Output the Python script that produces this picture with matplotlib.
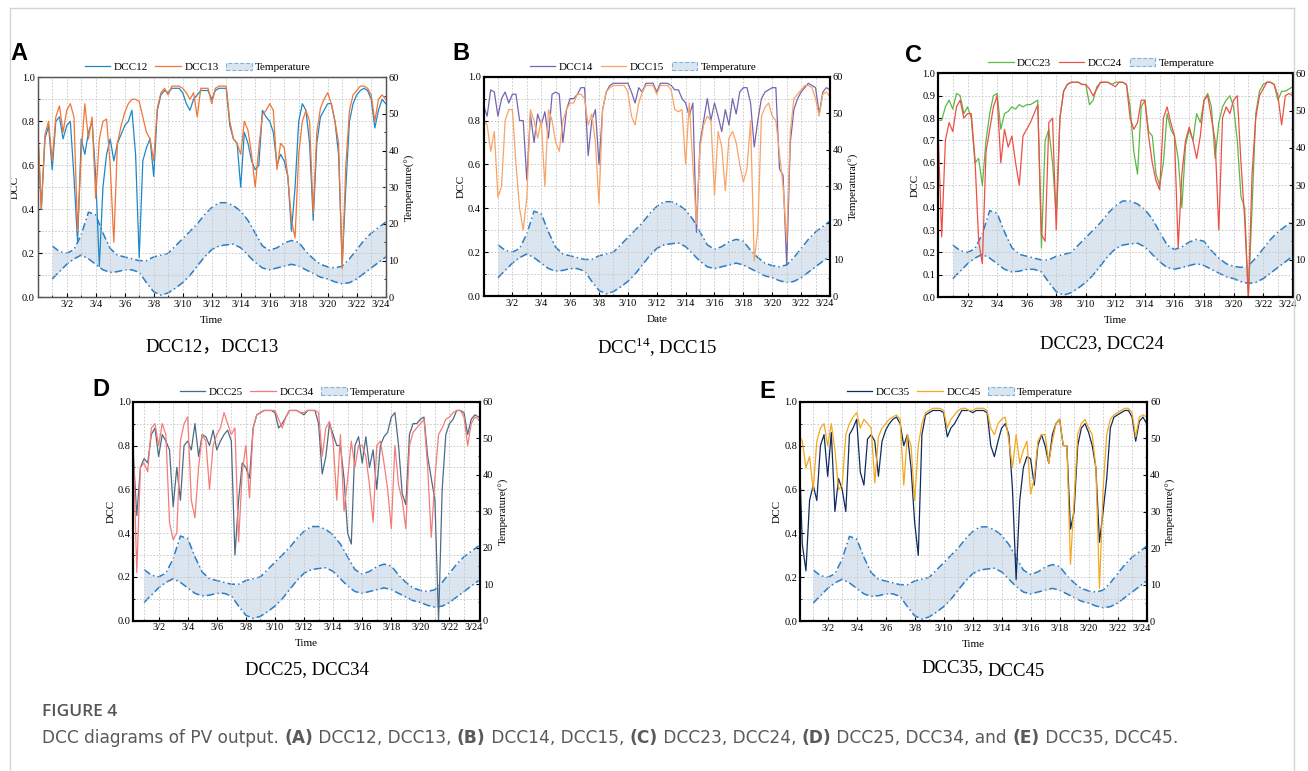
import numpy as np
import matplotlib
matplotlib.use('Agg')
import matplotlib.pyplot as plt
import matplotlib.patches as mpatches
import matplotlib.transforms as mtransforms
from matplotlib.lines import Line2D
from matplotlib.ticker import MultipleLocator

plt.rcParams['font.family'] = ['Liberation Serif', 'Noto Sans CJK SC', 'DejaVu Sans']
plt.rcParams['mathtext.fontset'] = 'custom'
plt.rcParams['mathtext.rm'] = 'Liberation Serif'

W, H = 1308, 771

# time axis: day of March, sampled every 6 hours
days = np.arange(0, 24.25, 0.25)
xtick_days = list(range(2, 25, 2))
xtick_labels = ['3/%d' % d for d in xtick_days]

# temperature envelope (deg), every 12 hours from 3/1
temp_days = np.arange(1, 24.5, 0.5)
temp_high = [14, 12.5, 12, 13, 17, 23.2, 22.5, 17.5, 13.3, 11.5, 11, 10.5, 10, 10, 11, 11.5,
             12, 14, 16, 18, 20, 22.5, 24.5, 25.8, 25.8, 25, 23.5, 21, 17.5, 14, 12.8, 13.5,
             14.8, 15.5, 15, 12.5, 10.5, 9, 8.3, 8, 8.5, 10.5, 13, 15.5, 17.5, 19, 20.5]
temp_low = [5, 7, 9, 10.5, 11.5, 10.5, 9, 7.5, 6.8, 7, 7.5, 7.5, 6.8, 4, 1.5, 0.6,
            1.2, 2.5, 4, 6, 8.5, 11, 13, 14, 14.3, 14.5, 13.5, 11.5, 9.5, 8, 7.5, 8,
            8.5, 9, 8.5, 7.5, 6.5, 5.5, 5, 4.2, 3.7, 4, 5, 6.5, 8, 9.5, 11]

dcc12 = [0.76, 0.40, 0.72, 0.78, 0.58, 0.80, 0.82, 0.72,
         0.78, 0.80, 0.55, 0.25, 0.72, 0.65, 0.75, 0.80,
         0.55, 0.14, 0.50, 0.65, 0.72, 0.62, 0.70, 0.74,
         0.78, 0.80, 0.85, 0.65, 0.18, 0.62, 0.68, 0.72,
         0.55, 0.85, 0.92, 0.94, 0.93, 0.95, 0.95, 0.95,
         0.93, 0.88, 0.85, 0.90, 0.92, 0.94, 0.94, 0.94,
         0.90, 0.94, 0.95, 0.95, 0.95, 0.78, 0.72, 0.70,
         0.50, 0.75, 0.70, 0.62, 0.58, 0.60, 0.85, 0.82,
         0.80, 0.75, 0.60, 0.65, 0.62, 0.55, 0.30, 0.50,
         0.80, 0.88, 0.85, 0.70, 0.35, 0.70, 0.82, 0.85,
         0.88, 0.88, 0.80, 0.65, 0.15, 0.50, 0.80, 0.88,
         0.92, 0.94, 0.95, 0.94, 0.90, 0.77, 0.85, 0.90,
         0.88]
dcc13 = [0.78, 0.40, 0.74, 0.80, 0.62, 0.82, 0.87, 0.75,
         0.85, 0.88, 0.82, 0.30, 0.65, 0.88, 0.72, 0.82,
         0.45, 0.72, 0.80, 0.81, 0.60, 0.25, 0.70, 0.78,
         0.84, 0.88, 0.90, 0.90, 0.89, 0.82, 0.75, 0.72,
         0.62, 0.86, 0.93, 0.95, 0.92, 0.96, 0.96, 0.96,
         0.95, 0.93, 0.90, 0.93, 0.82, 0.95, 0.95, 0.95,
         0.88, 0.95, 0.96, 0.96, 0.96, 0.80, 0.72, 0.70,
         0.65, 0.80, 0.76, 0.65, 0.50, 0.68, 0.83, 0.85,
         0.88, 0.85, 0.58, 0.70, 0.68, 0.55, 0.35, 0.27,
         0.65, 0.80, 0.85, 0.80, 0.38, 0.75, 0.86, 0.90,
         0.93, 0.88, 0.80, 0.70, 0.13, 0.60, 0.85, 0.92,
         0.94, 0.96, 0.96, 0.95, 0.92, 0.80, 0.90, 0.92,
         0.90]
dcc14 = [0.87, 0.82, 0.94, 0.93, 0.82, 0.90, 0.93, 0.88,
         0.92, 0.92, 0.80, 0.80, 0.53, 0.83, 0.70, 0.83,
         0.78, 0.84, 0.72, 0.92, 0.93, 0.92, 0.70, 0.85,
         0.90, 0.90, 0.92, 0.95, 0.95, 0.64, 0.80, 0.85,
         0.60, 0.85, 0.93, 0.96, 0.97, 0.97, 0.97, 0.97,
         0.97, 0.93, 0.88, 0.95, 0.93, 0.97, 0.97, 0.97,
         0.93, 0.97, 0.97, 0.97, 0.96, 0.94, 0.94, 0.90,
         0.88, 0.82, 0.88, 0.29, 0.70, 0.80, 0.90, 0.80,
         0.88, 0.82, 0.75, 0.85, 0.78, 0.90, 0.83, 0.93,
         0.95, 0.95, 0.88, 0.68, 0.80, 0.90, 0.93, 0.94,
         0.95, 0.95, 0.58, 0.55, 0.14, 0.70, 0.85, 0.90,
         0.93, 0.95, 0.97, 0.96, 0.95, 0.83, 0.93, 0.95,
         0.94]
dcc15 = [0.80, 0.78, 0.66, 0.75, 0.45, 0.50, 0.80, 0.85,
         0.85, 0.60, 0.40, 0.30, 0.45, 0.85, 0.80, 0.72,
         0.80, 0.50, 0.85, 0.80, 0.70, 0.66, 0.80, 0.85,
         0.88, 0.88, 0.92, 0.92, 0.90, 0.78, 0.83, 0.70,
         0.42, 0.85, 0.93, 0.95, 0.96, 0.96, 0.96, 0.96,
         0.93, 0.82, 0.78, 0.88, 0.93, 0.96, 0.96, 0.96,
         0.92, 0.96, 0.96, 0.96, 0.94, 0.85, 0.84, 0.85,
         0.60, 0.88, 0.60, 0.33, 0.68, 0.78, 0.82, 0.80,
         0.46, 0.75, 0.68, 0.48, 0.72, 0.75, 0.70, 0.60,
         0.52, 0.58, 0.80, 0.16, 0.30, 0.82, 0.86, 0.88,
         0.82, 0.80, 0.65, 0.50, 0.25, 0.75, 0.90, 0.92,
         0.94, 0.96, 0.96, 0.95, 0.90, 0.82, 0.92, 0.93,
         0.91]
dcc23 = [0.79, 0.79, 0.85, 0.88, 0.84, 0.91, 0.90, 0.82,
         0.85, 0.80, 0.60, 0.62, 0.50, 0.70, 0.82, 0.90,
         0.91, 0.75, 0.82, 0.83, 0.85, 0.84, 0.86, 0.85,
         0.86, 0.86, 0.87, 0.88, 0.22, 0.70, 0.75, 0.60,
         0.37, 0.80, 0.92, 0.95, 0.96, 0.96, 0.96, 0.95,
         0.95, 0.86, 0.88, 0.94, 0.96, 0.96, 0.96, 0.95,
         0.96, 0.96, 0.96, 0.95, 0.85, 0.65, 0.55, 0.85,
         0.88, 0.74, 0.72, 0.55, 0.50, 0.60, 0.82, 0.75,
         0.72, 0.62, 0.40, 0.68, 0.75, 0.70, 0.82, 0.78,
         0.88, 0.91, 0.85, 0.62, 0.78, 0.85, 0.88, 0.90,
         0.85, 0.70, 0.45, 0.40, 0.00, 0.40, 0.82, 0.92,
         0.95, 0.96, 0.96, 0.95, 0.88, 0.92, 0.92, 0.93,
         0.94]
dcc24 = [0.76, 0.27, 0.70, 0.78, 0.74, 0.85, 0.88, 0.80,
         0.82, 0.82, 0.62, 0.25, 0.15, 0.65, 0.75, 0.85,
         0.90, 0.60, 0.75, 0.67, 0.72, 0.60, 0.50, 0.72,
         0.75, 0.78, 0.82, 0.86, 0.28, 0.25, 0.78, 0.80,
         0.30, 0.80, 0.92, 0.95, 0.96, 0.96, 0.96, 0.95,
         0.95, 0.93, 0.90, 0.93, 0.96, 0.96, 0.96, 0.95,
         0.94, 0.96, 0.96, 0.95, 0.80, 0.75, 0.78, 0.88,
         0.88, 0.72, 0.60, 0.52, 0.48, 0.80, 0.85, 0.78,
         0.72, 0.22, 0.55, 0.70, 0.76, 0.70, 0.62, 0.72,
         0.88, 0.90, 0.80, 0.70, 0.30, 0.80, 0.85, 0.82,
         0.88, 0.90, 0.60, 0.35, 0.00, 0.55, 0.80, 0.90,
         0.93, 0.96, 0.96, 0.95, 0.90, 0.77, 0.90, 0.91,
         0.90]
# panel D starts at 3/0.25
dcc25 = [0.77, 0.48, 0.70, 0.74, 0.72, 0.85, 0.88,
         0.75, 0.85, 0.82, 0.78, 0.52, 0.70, 0.55, 0.80,
         0.82, 0.78, 0.90, 0.75, 0.85, 0.84, 0.80, 0.87,
         0.78, 0.82, 0.85, 0.87, 0.82, 0.30, 0.55, 0.72,
         0.70, 0.65, 0.88, 0.94, 0.95, 0.96, 0.96, 0.96,
         0.95, 0.88, 0.90, 0.93, 0.96, 0.96, 0.96, 0.95,
         0.94, 0.96, 0.96, 0.96, 0.90, 0.67, 0.75, 0.90,
         0.85, 0.80, 0.80, 0.65, 0.40, 0.35, 0.80, 0.84,
         0.72, 0.84, 0.70, 0.78, 0.60, 0.80, 0.84, 0.86,
         0.93, 0.95, 0.80, 0.58, 0.53, 0.85, 0.90, 0.90,
         0.92, 0.93, 0.75, 0.65, 0.55, 0.00, 0.60, 0.85,
         0.90, 0.92, 0.96, 0.96, 0.95, 0.85, 0.92, 0.94,
         0.93]
dcc34 = [0.82, 0.22, 0.70, 0.72, 0.68, 0.88, 0.90,
         0.80, 0.90, 0.85, 0.45, 0.37, 0.40, 0.82, 0.90,
         0.93, 0.55, 0.47, 0.70, 0.85, 0.82, 0.60, 0.80,
         0.85, 0.88, 0.95, 0.90, 0.85, 0.88, 0.36, 0.68,
         0.80, 0.56, 0.88, 0.94, 0.95, 0.96, 0.96, 0.96,
         0.96, 0.92, 0.88, 0.93, 0.96, 0.96, 0.96, 0.95,
         0.95, 0.96, 0.96, 0.96, 0.95, 0.75, 0.88, 0.91,
         0.82, 0.55, 0.85, 0.50, 0.65, 0.82, 0.70, 0.80,
         0.80, 0.75, 0.62, 0.45, 0.80, 0.82, 0.72, 0.60,
         0.42, 0.80, 0.62, 0.55, 0.42, 0.80, 0.86, 0.88,
         0.90, 0.92, 0.70, 0.38, 0.65, 0.85, 0.88, 0.92,
         0.93, 0.95, 0.96, 0.96, 0.93, 0.80, 0.90, 0.93,
         0.92]
dcc35 = [0.85, 0.35, 0.23, 0.55, 0.62, 0.55, 0.80, 0.85,
         0.66, 0.86, 0.50, 0.65, 0.60, 0.50, 0.85, 0.88,
         0.92, 0.68, 0.62, 0.83, 0.85, 0.82, 0.66, 0.82,
         0.87, 0.90, 0.92, 0.93, 0.90, 0.80, 0.85, 0.70,
         0.45, 0.30, 0.85, 0.94, 0.95, 0.96, 0.96, 0.96,
         0.95, 0.84, 0.88, 0.90, 0.93, 0.96, 0.96, 0.96,
         0.95, 0.96, 0.96, 0.96, 0.95, 0.80, 0.75, 0.82,
         0.88, 0.90, 0.85, 0.60, 0.19, 0.55, 0.70, 0.75,
         0.74, 0.62, 0.80, 0.85, 0.80, 0.72, 0.85, 0.90,
         0.92, 0.80, 0.80, 0.42, 0.50, 0.80, 0.88, 0.90,
         0.86, 0.80, 0.70, 0.36, 0.50, 0.65, 0.88, 0.93,
         0.94, 0.95, 0.96, 0.96, 0.93, 0.82, 0.91, 0.93,
         0.90]
dcc45 = [0.85, 0.82, 0.70, 0.75, 0.60, 0.82, 0.88, 0.90,
         0.80, 0.90, 0.78, 0.60, 0.62, 0.85, 0.90, 0.93,
         0.95, 0.88, 0.92, 0.90, 0.88, 0.63, 0.84, 0.88,
         0.90, 0.92, 0.93, 0.94, 0.92, 0.62, 0.85, 0.80,
         0.55, 0.80, 0.90, 0.95, 0.96, 0.97, 0.97, 0.97,
         0.96, 0.88, 0.92, 0.94, 0.96, 0.97, 0.97, 0.96,
         0.96, 0.97, 0.97, 0.97, 0.96, 0.88, 0.85, 0.90,
         0.92, 0.93, 0.82, 0.70, 0.85, 0.72, 0.78, 0.82,
         0.58, 0.65, 0.82, 0.85, 0.85, 0.72, 0.82, 0.90,
         0.92, 0.80, 0.80, 0.26, 0.55, 0.85, 0.90, 0.92,
         0.88, 0.85, 0.70, 0.15, 0.60, 0.85, 0.92, 0.94,
         0.95, 0.96, 0.97, 0.97, 0.95, 0.84, 0.93, 0.94,
         0.93]

band_fill = '#dbe5f0'
band_edge = '#2a7dc6'

# rect = (left, top, right, bottom) in pixels
panels = [
    dict(letter='A', rect=(37.7, 77.3, 385.7, 297.3), xlim=(0, 24), t=days,
         ys=(dcc12, dcc13), names=('DCC12', 'DCC13'), colors=('#1b88ca', '#f07537'),
         xlabel='Time', ylabel2='Temperature(°)', yminor=True, letter_xy=(19, 54),
         sub_xy=(212, 347), sub='DCC12，DCC13', frame='#555555', frame_lw=0.9),
    dict(letter='B', rect=(483.5, 76.7, 830.0, 296.0), xlim=(0, 24), t=days,
         ys=(dcc14, dcc15), names=('DCC14', 'DCC15'), colors=('#7565b0', '#f9a466'),
         xlabel='Date', ylabel2='Temperatura(°)', yminor=True, letter_xy=(461, 53),
         sub_xy=(657, 347), sub='DCC$^{14}$, DCC15', frame='black', frame_lw=1.5),
    dict(letter='C', rect=(938.0, 73.3, 1292.7, 297.3), xlim=(0, 24), t=days,
         ys=(dcc23, dcc24), names=('DCC23', 'DCC24'), colors=('#5db845', '#ee5048'),
         xlabel='Time', ylabel2=None, yminor=False, letter_xy=(913, 55),
         sub_xy=(1102, 344), sub='DCC23, DCC24', frame='black', frame_lw=1.5),
    dict(letter='D', rect=(133.3, 401.7, 480.0, 620.7), xlim=(0.26, 24.1), t=days[1:],
         ys=(dcc25, dcc34), names=('DCC25', 'DCC34'), colors=('#4e6a84', '#f47c77'),
         xlabel='Time', ylabel2='Temperature(°)', yminor=True, letter_xy=(101, 389),
         sub_xy=(307, 670), sub='DCC25, DCC34', frame='black', frame_lw=1.5),
    dict(letter='E', rect=(800.0, 401.7, 1147.3, 621.3), xlim=(0.09, 24.05), t=days,
         ys=(dcc35, dcc45), names=('DCC35', 'DCC45'), colors=('#0f2c5e', '#f5a81c'),
         xlabel='Time', ylabel2='Temperature(°)', yminor=True, letter_xy=(767, 391),
         sub_xy=None, sub=None, frame='black', frame_lw=1.5),
]

fig = plt.figure(figsize=(W / 100, H / 100), dpi=100)

# light frame around the figure panel
frame_kw = dict(color='#d4d4d4', lw=1.0, transform=fig.transFigure)
fig.add_artist(Line2D([9.5 / W, 9.5 / W], [0, 1 - 8 / H], **frame_kw))
fig.add_artist(Line2D([9.5 / W, 1294 / W], [1 - 8 / H, 1 - 8 / H], **frame_kw))
fig.add_artist(Line2D([1294 / W, 1294 / W], [0, 1 - 8 / H], **frame_kw))

for p in panels:
    l, t, r, b = p['rect']
    ax = fig.add_axes([l / W, 1 - b / H, (r - l) / W, (b - t) / H])
    ax2 = ax.twinx()

    ax2.fill_between(temp_days, temp_low, temp_high, color=band_fill, lw=0)
    ax2.plot(temp_days, temp_high, color=band_edge, lw=1.1, ls=(0, (5, 2, 1, 2)))
    ax2.plot(temp_days, temp_low, color=band_edge, lw=1.1, ls=(0, (5, 2, 1, 2)))
    ax2.set_ylim(0, 60)
    ax2.yaxis.set_major_locator(MultipleLocator(10))
    ax2.yaxis.set_minor_locator(MultipleLocator(5))
    ax2.tick_params(axis='y', which='both', direction='in', labelsize=7.5, pad=2)
    ax2.tick_params(axis='y', which='major', length=3)
    ax2.tick_params(axis='y', which='minor', length=1.5)
    if p['ylabel2']:
        ax2.set_ylabel(p['ylabel2'], fontsize=8, labelpad=4)

    ax.set_zorder(ax2.get_zorder() + 1)
    ax.patch.set_visible(False)

    handles = []
    for ys, name, c in zip(p['ys'], p['names'], p['colors']):
        h, = ax.plot(p['t'], ys, color=c, lw=0.9, label=name)
        handles.append(h)
    handles.append(mpatches.Patch(facecolor=band_fill, edgecolor='#7fb3e0', ls='--', lw=0.8,
                                  label='Temperature'))

    ax.set_xlim(*p['xlim'])
    ax2.set_xlim(*p['xlim'])
    ax.set_ylim(0, 1.0)
    ax.set_xticks(xtick_days)
    ax.set_xticklabels(xtick_labels)
    ax.xaxis.set_minor_locator(MultipleLocator(1))
    if p['yminor']:
        ax.yaxis.set_major_locator(MultipleLocator(0.2))
        ax.yaxis.set_minor_locator(MultipleLocator(0.1))
    else:
        ax.yaxis.set_major_locator(MultipleLocator(0.1))
    ax.yaxis.set_major_formatter(matplotlib.ticker.FormatStrFormatter('%.1f'))
    ax.tick_params(which='both', direction='in', labelsize=7.5, pad=2)
    ax.tick_params(which='major', length=3)
    ax.tick_params(which='minor', length=1.5)
    ax.grid(which='both', color='#c4c4c4', lw=0.6, ls=(0, (2, 2)))
    ax.set_xlabel(p['xlabel'], fontsize=8, labelpad=5)
    ax.set_ylabel('DCC', fontsize=8, labelpad=1.5)

    # last date label sits a bit to the left, clear of the right-axis "0"
    last = ax.get_xticklabels()[-1]
    last.set_transform(last.get_transform() +
                       mtransforms.ScaledTranslation(-5 / 100, 0, fig.dpi_scale_trans))

    for a in (ax, ax2):
        for s in a.spines.values():
            s.set_color(p['frame'])
            s.set_linewidth(p['frame_lw'])

    ax.legend(handles=handles, loc='center', bbox_to_anchor=(0.46, 1.045), ncol=3,
              frameon=False, fontsize=8, handlelength=2.3, handletextpad=0.3,
              columnspacing=0.7, borderaxespad=0)

    lx, ly = p['letter_xy']
    fig.text(lx / W, 1 - ly / H, p['letter'], fontsize=17, fontweight='bold',
             family='Liberation Sans', ha='center', va='center')
    if p['sub']:
        sx, sy = p['sub_xy']
        fig.text(sx / W, 1 - sy / H, p['sub'], fontsize=13.5, ha='center', va='center')

# panel E subtitle, second part sits a little lower
fig.text(983 / W, 1 - 668 / H, 'DCC35,', fontsize=13.5, ha='right', va='center')
fig.text(987 / W, 1 - 672 / H, 'DCC45', fontsize=13.5, ha='left', va='center')

# caption
fig.text(42 / W, 1 - 712 / H, 'FIGURE 4', fontsize=12.5, family='Open Sans',
         fontweight='semibold', color='#555555', va='center', ha='left')

caption = [('DCC diagrams of PV output. ', False), ('(A)', True), (' DCC12, DCC13, ', False),
           ('(B)', True), (' DCC14, DCC15, ', False), ('(C)', True), (' DCC23, DCC24, ', False),
           ('(D)', True), (' DCC25, DCC34, and ', False), ('(E)', True), (' DCC35, DCC45.', False)]
renderer = fig.canvas.get_renderer()

def place_caption(size):
    x = 42.0
    pieces = []
    for txt, bold in caption:
        tt = fig.text(x / W, 1 - 738 / H, txt, fontsize=size, family='DejaVu Sans',
                      fontweight='bold' if bold else 'normal', color='#5a5a5a',
                      va='center', ha='left')
        pieces.append(tt)
        x += tt.get_window_extent(renderer).width
    return pieces, x - 42.0

pieces, width = place_caption(11.5)
for tt in pieces:
    tt.remove()
place_caption(11.5 * 1138.0 / width)

fig.savefig('out.png', dpi=100)
